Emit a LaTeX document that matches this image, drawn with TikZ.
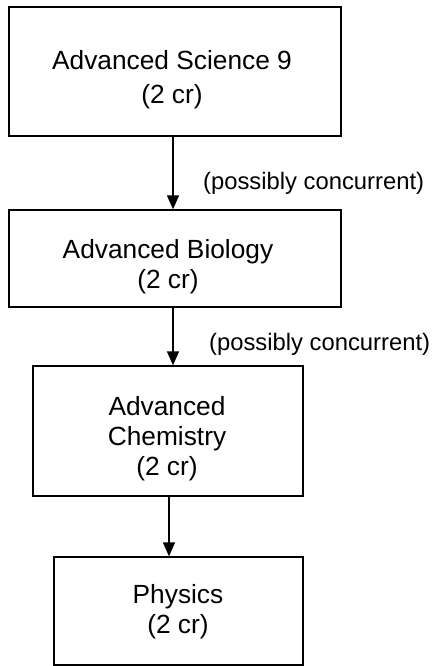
\documentclass[tikz,border=0pt]{standalone}
\usepackage{fontspec}
\setmainfont{Liberation Sans}
\usetikzlibrary{arrows.meta,positioning}
\begin{document}
\begin{tikzpicture}[x=1pt,y=-1pt,
  box/.style={draw=black,line width=1.3pt,rectangle,inner sep=0pt},
  txt/.style={align=center,inner sep=0pt,font=\fontsize{26.3}{30}\selectfont},
  lbl/.style={inner sep=0pt,anchor=west,font=\fontsize{23.8}{28}\selectfont},
  arr/.style={line width=1.3pt,-{Triangle[length=14pt,width=12pt]}}]
\useasboundingbox (0,0) rectangle (431,666);
% boxes
\node[box,minimum width=332pt,minimum height=129pt] (b1) at (175,71.5) {};
\node[box,minimum width=332pt,minimum height=97pt] (b2) at (175,258.5) {};
\node[box,minimum width=270pt,minimum height=130pt] (b3) at (168,431) {};
\node[box,minimum width=249pt,minimum height=108pt] (b4) at (178.5,611) {};
% texts
\node[txt,font=\fontsize{26.3}{34}\selectfont] (t1) at (172,80) {Advanced Science 9\\(2 cr)};
\node[txt] (t2) at (168,267) {Advanced Biology\\(2 cr)};
\node[txt] (t3) at (167,439) {Advanced\\Chemistry\\(2 cr)};
\node[txt] (t4) at (178,612) {Physics\\(2 cr)};
% labels
\node[lbl] (l1) at (203,183) {(possibly concurrent)};
\node[lbl] (l2) at (209,344) {(possibly concurrent)};
% arrows
\draw[arr] ([xshift=-2pt]b1.south) -- ([xshift=-2pt]b1.south |- b2.north);
\draw[arr] ([xshift=-2pt]b2.south) -- ([xshift=-2pt]b2.south |- b3.north);
\draw[arr] ([xshift=1pt]b3.south) -- ([xshift=1pt]b3.south |- b4.north);
\end{tikzpicture}
\end{document}
